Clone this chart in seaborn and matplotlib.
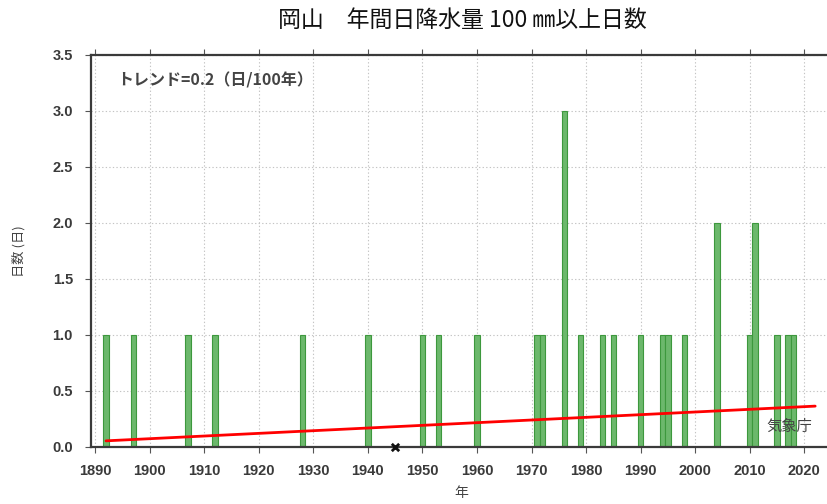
import matplotlib
matplotlib.use("Agg")
import matplotlib.pyplot as plt
import seaborn as sns
import pandas as pd
from matplotlib.ticker import FormatStrFormatter, MultipleLocator

# Years with at least one day of >= 100 mm daily precipitation (Okayama)
years = [1892, 1897, 1907, 1912, 1928, 1940, 1950, 1953, 1960, 1971, 1972,
         1976, 1979, 1983, 1985, 1990, 1994, 1995, 1998, 2004, 2010, 2011,
         2015, 2017, 2018]
days = [1, 1, 1, 1, 1, 1, 1, 1, 1, 1, 1,
        3, 1, 1, 1, 1, 1, 1, 1, 2, 1, 2,
        1, 1, 1]

# Years with missing observations
missing_years = [1945]

# Linear trend (0.2 days / 100 years) end points
trend_years = [1892, 2022]
trend_values = [0.055, 0.365]

title = "岡山　年間日降水量 100 ㎜以上日数"
trend_text = "トレンド=0.2（日/100年）"
ylabel = "日数 (日)"
xlabel = "年"
credit = "気象庁"

sns.set_theme(style="white")
plt.rcParams["font.family"] = ["Noto Sans CJK JP", "DejaVu Sans"]

df = pd.DataFrame({"year": years, "days": days})
trend = pd.DataFrame({"year": trend_years, "value": trend_values})

fig = plt.figure(figsize=(8.28, 5.04), dpi=100)
ax = fig.add_axes([91 / 828, 57 / 504, 740 / 828, 392 / 504])

ax.set_axisbelow(True)
ax.grid(True, which="major", linestyle=(0, (1.2, 2.0)), color="#c4c4c4", linewidth=0.8)

sns.barplot(data=df, x="year", y="days", native_scale=True, width=1.0,
            color="#6cb86c", saturation=1, edgecolor="#3d983d", linewidth=0.8,
            errorbar=None, ax=ax, zorder=2)

sns.lineplot(data=trend, x="year", y="value", color="#ff0000", linewidth=2.0,
             ax=ax, zorder=3)

ax.scatter(missing_years, [0] * len(missing_years), marker="x", color="#111111",
           s=28, linewidths=2.0, zorder=5, clip_on=False)

ax.set_xlim(1889.25, 2024.9)
ax.set_ylim(0, 3.5)
ax.xaxis.set_major_locator(MultipleLocator(10))
ax.yaxis.set_major_locator(MultipleLocator(0.5))
ax.yaxis.set_major_formatter(FormatStrFormatter("%.1f"))

for side in ["left", "bottom", "top"]:
    ax.spines[side].set_color("#3a3a3a")
    ax.spines[side].set_linewidth(1.6)
ax.spines["right"].set_visible(False)

ax.tick_params(axis="both", which="major", direction="out", length=4, width=0.8,
               color="#555555", labelcolor="#3a3a3a", labelsize=10.5)
ax.tick_params(axis="x", top=True, bottom=True, pad=8)
ax.tick_params(axis="y", left=True, pad=9)
for lab in ax.get_xticklabels() + ax.get_yticklabels():
    lab.set_family(["Liberation Sans", "DejaVu Sans"])
    lab.set_fontweight("bold")

ax.set_xlabel(xlabel, fontsize=10, color="#444444", labelpad=6)
ax.set_ylabel(ylabel, fontsize=9.5, color="#444444", labelpad=19)

ax.text(0.035, 0.955, trend_text, transform=ax.transAxes, fontsize=11.5,
        fontweight="bold", color="#444444", ha="left", va="top")
ax.text(0.975, 0.03, credit, transform=ax.transAxes, fontsize=11,
        color="#444444", ha="right", va="bottom")

fig.text(0.559, 0.96, title, fontsize=16.5, color="#111111", ha="center", va="center")

fig.savefig("out.png", dpi=100)
